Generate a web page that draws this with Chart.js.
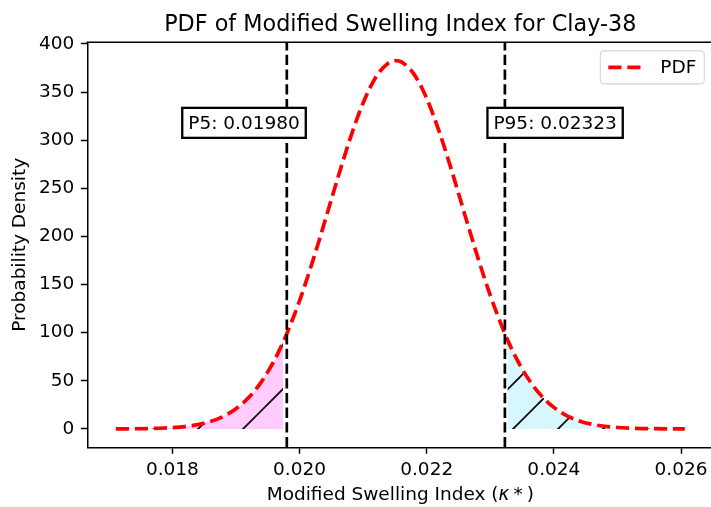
<!DOCTYPE html>
<html>
<head>
<meta charset="utf-8">
<script src="https://cdn.jsdelivr.net/npm/chart.js@4/dist/chart.umd.min.js"></script>
<style>
  html, body { margin: 0; padding: 0; background: #fff; overflow: hidden; width: 711px; height: 507px; }
  canvas { display: block; }
</style>
</head>
<body>
<canvas id="c" width="720" height="507" style="width:720px;height:507px"></canvas>
<script>
// Modified swelling index (kappa*) sample points and the fitted probability density
const kappa = [0.01711, 0.0172, 0.0174, 0.0176, 0.0178, 0.0180, 0.0182, 0.0184, 0.0186, 0.0188,
  0.0190, 0.0192, 0.0194, 0.0196, 0.01974, 0.0198, 0.0200, 0.0202, 0.0204, 0.0206,
  0.0208, 0.0210, 0.0212, 0.0214, 0.021515, 0.0216, 0.0218, 0.0220, 0.0222, 0.0224,
  0.0226, 0.0228, 0.0230, 0.02323, 0.02327, 0.0234, 0.0236, 0.0238, 0.0240, 0.0242,
  0.0244, 0.0246, 0.0248, 0.0250, 0.0252, 0.0254, 0.0256, 0.0258, 0.0260, 0.02606];
const density = [0.05, 0.07, 0.16, 0.33, 0.67, 1.30, 2.44, 4.41, 7.68, 12.90,
  20.86, 32.52, 48.88, 70.81, 89.80, 98.90, 133.1, 172.7, 216.0, 260.3,
  302.4, 338.7, 365.5, 380.3, 382.6, 381.3, 368.6, 343.4, 308.3, 266.9,
  222.6, 179.0, 138.8, 98.90, 92.77, 74.63, 51.80, 34.66, 22.35, 13.89,
  8.32, 4.81, 2.68, 1.43, 0.74, 0.37, 0.18, 0.08, 0.04, 0.03];

// Percentiles and the shaded tail limits
const p5 = 0.01980;
const p95 = 0.02323;
const lowerTailEnd = 0.01974;
const upperTailStart = 0.02327;

// Axis ticks and limits
const xTicks = [0.018, 0.020, 0.022, 0.024, 0.026];
const yTicks = [0, 50, 100, 150, 200, 250, 300, 350, 400];
const xLimits = [0.016662, 0.026508];
const yLimits = [-19.13, 401.7];

// Percentile label placement (data units)
const labelY = 318;
const labelXFactor = [0.966, 1.034];

const FONT = '"DejaVu Sans", "Liberation Sans", sans-serif';
const FS = 18.5;
Chart.defaults.font.family = FONT;
Chart.defaults.color = '#000';

const points = kappa.map((k, i) => ({ x: k, y: density[i] }));
const lowerTail = points.filter(p => p.x <= lowerTailEnd);
const upperTail = points.filter(p => p.x >= upperTailStart);

// Hatched fill: '/' lines over a tinted background
function hatch(bg) {
  const size = 45;
  const c = document.createElement('canvas');
  c.width = size; c.height = size;
  const g = c.getContext('2d');
  g.fillStyle = bg;
  g.fillRect(0, 0, size, size);
  g.strokeStyle = '#000';
  g.lineWidth = 1.7;
  [42 - size, 42, 42 + size].forEach(k => {
    g.beginPath();
    g.moveTo(k + 10, -10);
    g.lineTo(-10, k + 10);
    g.stroke();
  });
  return document.getElementById('c').getContext('2d').createPattern(c, 'repeat');
}

const overlay = {
  id: 'overlay',
  afterDatasetsDraw(chart) {
    const { ctx, chartArea: a, scales: { x, y } } = chart;
    ctx.save();

    // percentile markers
    ctx.strokeStyle = '#000';
    ctx.lineWidth = 2.7;
    ctx.lineCap = 'butt';
    ctx.setLineDash([10.3, 4.4]);
    [p5, p95].forEach(v => {
      const px = x.getPixelForValue(v);
      ctx.beginPath();
      ctx.moveTo(px, a.bottom);
      ctx.lineTo(px, a.top);
      ctx.stroke();
    });
    ctx.setLineDash([]);

    // percentile labels
    ctx.font = FS + 'px ' + FONT;
    ctx.textAlign = 'center';
    ctx.textBaseline = 'middle';
    const labels = [['P5: ' + p5.toFixed(5), p5 * labelXFactor[0]],
                    ['P95: ' + p95.toFixed(5), p95 * labelXFactor[1]]];
    labels.forEach(([t, v]) => {
      const cx = x.getPixelForValue(v);
      const cy = y.getPixelForValue(labelY);
      const w = ctx.measureText(t).width + 12;
      const h = 30;
      ctx.fillStyle = '#fff';
      ctx.fillRect(cx - w / 2, cy - h / 2, w, h);
      ctx.lineWidth = 2.3;
      ctx.strokeStyle = '#000';
      ctx.strokeRect(cx - w / 2, cy - h / 2, w, h);
      ctx.fillStyle = '#000';
      ctx.fillText(t, cx, cy + 1);
    });

    // top spine
    ctx.lineWidth = 1.5;
    ctx.beginPath();
    ctx.moveTo(a.left - 0.75, a.top);
    ctx.lineTo(a.right, a.top);
    ctx.stroke();

    // legend
    const lw = 104, lh = 33;
    const lx = a.right - 9 - lw, ly = a.top + 8.5;
    ctx.beginPath();
    ctx.roundRect(lx, ly, lw, lh, 4);
    ctx.fillStyle = 'rgba(255,255,255,0.8)';
    ctx.fill();
    ctx.strokeStyle = '#d6d6d6';
    ctx.lineWidth = 1.2;
    ctx.stroke();
    ctx.strokeStyle = '#ff0000';
    ctx.lineWidth = 3.7;
    ctx.setLineDash([13.2, 5.8]);
    ctx.beginPath();
    ctx.moveTo(lx + 8, ly + lh / 2);
    ctx.lineTo(lx + 43, ly + lh / 2);
    ctx.stroke();
    ctx.setLineDash([]);
    ctx.fillStyle = '#000';
    ctx.textAlign = 'left';
    ctx.fillText('PDF', lx + 60, ly + lh / 2 + 1);

    // title
    const midX = (a.left + a.right) / 2;
    ctx.font = '22.3px ' + FONT;
    ctx.textAlign = 'center';
    ctx.textBaseline = 'alphabetic';
    ctx.fillText('PDF of Modified Swelling Index for Clay-38', midX, a.top - 11);

    // x-axis label with math kappa*
    const base = FS + 'px ' + FONT, ital = 'italic ' + FS + 'px ' + FONT;
    const parts = [['Modified Swelling Index (', base, 0], ['κ', ital, 4], ['*', base, 4], [')', base, 0]];
    let total = 0;
    parts.forEach(([t, f, gap]) => { ctx.font = f; total += ctx.measureText(t).width + gap; });
    let px = midX - total / 2;
    ctx.textAlign = 'left';
    ctx.textBaseline = 'middle';
    parts.forEach(([t, f, gap]) => {
      ctx.font = f;
      ctx.fillText(t, px, 495);
      px += ctx.measureText(t).width + gap;
    });

    // y-axis label
    ctx.font = FS + 'px ' + FONT;
    ctx.textAlign = 'center';
    ctx.save();
    ctx.translate(20.5, (a.top + a.bottom) / 2);
    ctx.rotate(-Math.PI / 2);
    ctx.fillText('Probability Density', 0, 0);
    ctx.restore();

    ctx.restore();
  }
};

new Chart(document.getElementById('c'), {
  type: 'line',
  data: {
    datasets: [
      {
        label: 'PDF',
        data: points,
        borderColor: '#ff0000',
        borderWidth: 3.7,
        borderDash: [13.2, 5.8],
        borderCapStyle: 'butt',
        cubicInterpolationMode: 'monotone',
        pointRadius: 0,
        fill: false,
        order: 0
      },
      {
        label: 'lower tail',
        data: lowerTail,
        borderWidth: 0,
        pointRadius: 0,
        cubicInterpolationMode: 'monotone',
        backgroundColor: hatch('#ffccff'),
        fill: 'origin',
        order: 1
      },
      {
        label: 'upper tail',
        data: upperTail,
        borderWidth: 0,
        pointRadius: 0,
        cubicInterpolationMode: 'monotone',
        backgroundColor: hatch('#d6f7fd'),
        fill: 'origin',
        order: 1
      }
    ]
  },
  options: {
    responsive: false,
    animation: false,
    devicePixelRatio: 1,
    layout: { padding: { top: 42.3, right: 6.7, left: 0, bottom: 0 } },
    plugins: { legend: { display: false }, title: { display: false }, tooltip: { enabled: false } },
    scales: {
      x: {
        type: 'linear',
        min: xLimits[0],
        max: xLimits[1],
        afterBuildTicks: s => { s.ticks = xTicks.map(v => ({ value: v })); },
        afterFit: s => { s.height = 59.7; },
        ticks: { autoSkip: false, maxRotation: 0, padding: 5, font: { size: FS }, color: '#000',
                 callback: v => v.toFixed(3) },
        grid: { drawOnChartArea: false, drawTicks: true, tickLength: 6.5, tickWidth: 1.5, tickColor: '#000' },
        border: { display: true, color: '#000', width: 1.5 }
      },
      y: {
        type: 'linear',
        min: yLimits[0],
        max: yLimits[1],
        afterBuildTicks: s => { s.ticks = yTicks.map(v => ({ value: v })); },
        afterFit: s => { s.width = 87.3; },
        ticks: { autoSkip: false, padding: 6.5, font: { size: FS }, color: '#000',
                 callback: v => String(v) },
        grid: { drawOnChartArea: false, drawTicks: true, tickLength: 6.5, tickWidth: 1.5, tickColor: '#000' },
        border: { display: true, color: '#000', width: 1.5 }
      }
    }
  },
  plugins: [overlay]
});
</script>
</body>
</html>
